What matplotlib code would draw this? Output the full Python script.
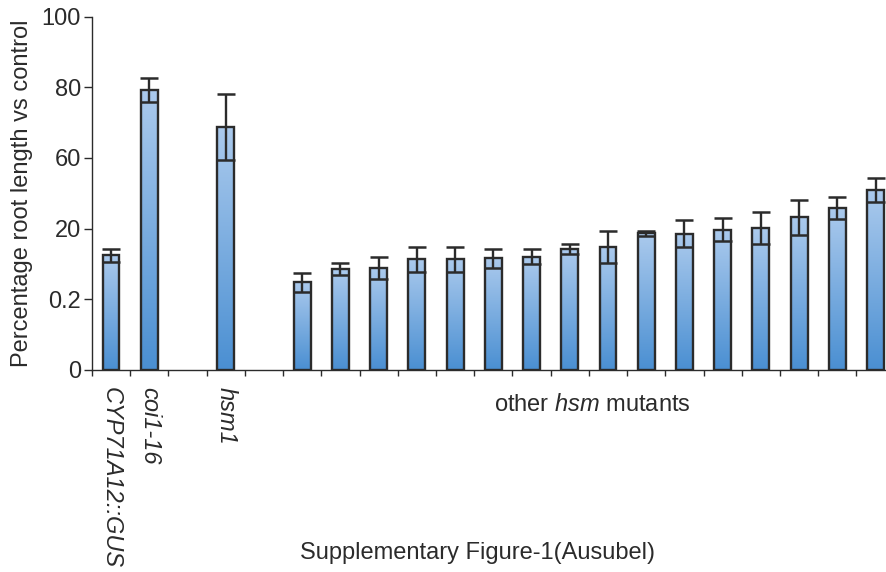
import numpy as np
import matplotlib.pyplot as plt
from matplotlib.colors import LinearSegmentedColormap

plt.rcParams['font.family'] = ['Liberation Sans', 'DejaVu Sans']
plt.rcParams['mathtext.fontset'] = 'custom'
plt.rcParams['mathtext.it'] = 'Liberation Sans:italic'
plt.rcParams['mathtext.rm'] = 'Liberation Sans'

# slot of each bar along the x axis (empty slots separate the groups)
slots = [0, 1, 3] + list(range(5, 21))
values = [32.4, 79.3, 68.8,
          24.7, 28.5, 28.8, 31.3, 31.3, 31.5, 32.0, 34.2,
          34.8, 38.6, 38.5, 39.7, 40.1, 43.2, 45.8, 50.8]
errors = [1.9, 3.3, 9.3,
          2.6, 1.7, 3.0, 3.5, 3.5, 2.6, 2.1, 1.3,
          4.5, 0.7, 3.8, 3.3, 4.5, 5.0, 3.2, 3.4]
named = ['CYP71A12::GUS', 'coi1-16', 'hsm1']
ytick_pos = [0, 20, 40, 60, 80, 100]
ytick_labels = ['0', '0.2', '20', '60', '80', '100']

ink = '#2b2b2b'
fs = 17
fig = plt.figure(figsize=(8.86, 5.72), dpi=100)
ax = fig.add_axes([0.1038, 0.354, 0.906, 0.6163])

cmap = LinearSegmentedColormap.from_list('bar', ['#4a8fd2', '#abcaed'])
grad = np.linspace(0, 1, 256).reshape(-1, 1)
w = 0.44
bars = ax.bar(slots, values, width=w, facecolor='none', edgecolor=ink,
              linewidth=1.7, zorder=3)
for b in bars:
    x0, h = b.get_x(), b.get_height()
    im = ax.imshow(grad, cmap=cmap, origin='lower', aspect='auto',
                   extent=(x0, x0 + w, 0, h), zorder=2)
    im.set_clip_path(b)
ax.errorbar(slots, values, yerr=errors, fmt='none', ecolor=ink,
            elinewidth=1.7, capsize=6.2, capthick=1.8, zorder=4)

ax.set_xlim(-0.5, 20.5)
ax.set_ylim(0, 100)
ax.set_yticks(ytick_pos)
ax.set_yticklabels(ytick_labels)
ax.set_xticks(np.arange(-0.5, 21, 1))
ax.set_xticklabels([])
for s in ['top', 'right']:
    ax.spines[s].set_visible(False)
for s in ['left', 'bottom']:
    ax.spines[s].set_color(ink)
    ax.spines[s].set_linewidth(1.0)
ax.tick_params(axis='both', direction='out', width=1.0,
               color=ink, labelcolor=ink, labelsize=fs)
ax.tick_params(axis='y', length=6, pad=2)
ax.tick_params(axis='x', length=4.5)
ax.set_ylabel('Percentage root length vs control', fontsize=fs, color=ink,
              labelpad=6)

for i, name in enumerate(named):
    ax.text(slots[i], -5, name, rotation=-90, style='italic', fontsize=fs,
            color=ink, ha='center', va='top', clip_on=False)
fig.text(592 / 886, 1 - 405 / 572, 'other $hsm$ mutants',
         ha='center', va='center', fontsize=fs, color=ink)
fig.text(478 / 886, 1 - 553 / 572, 'Supplementary Figure-1(Ausubel)',
         ha='center', va='center', fontsize=fs, color=ink)

fig.savefig('out.png', dpi=100)
